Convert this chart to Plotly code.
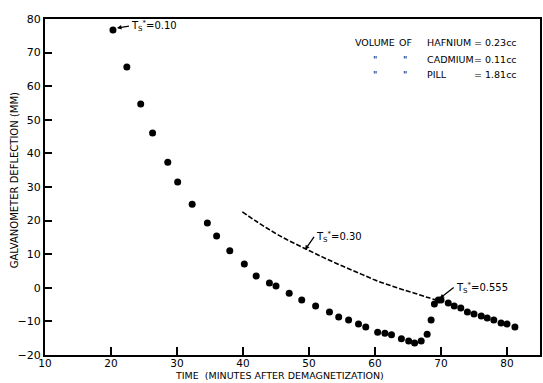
import plotly.graph_objects as go

# Measured galvanometer deflection (dots)
time_min = [20.3, 22.4, 24.5, 26.3, 28.6, 30.1, 32.3, 34.6, 36.0, 38.0, 40.2, 42.0,
            44.0, 45.0, 47.0, 48.9, 51.0, 53.1, 54.5, 56.0, 57.5, 58.6, 60.4, 61.5,
            62.5, 64.0, 65.1, 66.0, 67.0, 67.9, 68.5, 69.0, 69.6, 70.0, 71.1, 72.0,
            73.0, 74.0, 75.0, 76.1, 77.0, 78.0, 79.1, 80.0, 81.2]
deflection = [76.7, 65.7, 54.7, 46.1, 37.4, 31.5, 24.9, 19.3, 15.4, 11.0, 7.1, 3.5,
              1.4, 0.5, -1.6, -3.6, -5.4, -7.2, -8.7, -9.6, -10.8, -11.7, -13.2, -13.5,
              -14.0, -15.2, -15.8, -16.4, -15.8, -13.8, -9.6, -4.8, -3.6, -3.6, -4.5, -5.4,
              -6.0, -7.2, -7.8, -8.4, -9.0, -9.6, -10.5, -10.8, -11.7]

# Dashed curve (T_s* = 0.30)
curve_time = [39.9, 42, 44, 46, 48, 50, 52, 54, 56, 58, 60, 62, 64, 66, 68, 69.6]
curve_defl = [22.6, 19.8, 17.3, 15.0, 13.0, 11.1, 9.2, 7.4, 5.7, 4.0, 2.3, 0.9, -0.4, -1.6, -2.9, -3.8]

x_ticks = [10, 20, 30, 40, 50, 60, 70, 80]
y_ticks = [-20, -10, 0, 10, 20, 30, 40, 50, 60, 70, 80]

# legend-like note (rows of columns)
note_col1 = ["VOLUME", '"', '"']
note_col2 = ["OF", '"', '"']
note_col3 = ["HAFNIUM", "CADMIUM", "PILL"]
note_col4 = ["= 0.23cc", "= 0.11cc", "= 1.81cc"]

FONT = "DejaVu Sans"

fig = go.Figure()
fig.add_trace(go.Scatter(x=curve_time, y=curve_defl, mode="lines",
                         line=dict(color="black", width=1.6, dash="5px,2px"),
                         line_shape="spline", hoverinfo="skip"))
fig.add_trace(go.Scatter(x=time_min, y=deflection, mode="markers",
                         marker=dict(color="black", size=7)))

ann = []
# temperature labels with arrows: (head x, head y, label, pixel offset of text anchor)
for (hx, hy, v, axp, ayp) in [(20.9, 77.3, "0.10", 12, -2),
                              (49.4, 11.3, "0.30", 9, -13),
                              (69.8, -3.2, "0.555", 14, -11)]:
    ann.append(dict(x=hx, y=hy, xref="x", yref="y", ax=axp, ay=ayp,
                    text="T<sub>S</sub><sup>*</sup>=" + v, showarrow=True,
                    arrowhead=2, arrowsize=0.7, arrowwidth=1.3, arrowcolor="black",
                    xanchor="left", yanchor="middle",
                    font=dict(family=FONT, size=10, color="black")))

row_px = [43, 59, 75]
for i, py in enumerate(row_px):
    yy = 1 - (py - 19) / 336
    if i == 0:
        pos = [(354, note_col1[i], "left"), (398, note_col2[i], "left")]
    else:
        pos = [(376, note_col1[i], "center"), (406, note_col2[i], "center")]
    pos += [(427, note_col3[i], "left"), (474, note_col4[i], "left")]
    for (px, t, xa) in pos:
        ann.append(dict(x=(px - 45) / 497, y=yy, xref="paper", yref="paper", text=t,
                        showarrow=False, xanchor=xa, yanchor="middle",
                        font=dict(family=FONT, size=9.5, color="black")))

# axis titles
ann.append(dict(x=(280 - 45) / 497, y=-(383 - 355) / 336, xref="paper", yref="paper",
                text="TIME  (MINUTES AFTER DEMAGNETIZATION)", showarrow=False,
                xanchor="center", yanchor="bottom", font=dict(family=FONT, size=9.5, color="black")))
ann.append(dict(x=-0.062, y=1 - (180 - 19) / 336, xref="paper", yref="paper",
                text="GALVANOMETER DEFLECTION (MM)", showarrow=False, textangle=-90,
                xanchor="center", yanchor="middle", font=dict(family=FONT, size=10, color="black")))

fig.update_layout(
    width=543, height=383,
    margin=dict(l=45, r=1, t=19, b=28),
    paper_bgcolor="white", plot_bgcolor="white",
    showlegend=False,
    font=dict(family=FONT, color="black"),
    annotations=ann,
)
fig.update_xaxes(range=[10, 85], tickvals=x_ticks, ticks="inside", ticklen=8, tickwidth=1.5,
                 tickcolor="black", showgrid=False, zeroline=False, showline=True,
                 linecolor="black", linewidth=2, mirror=True, ticklabelstandoff=-3,
                 tickfont=dict(family=FONT, size=10.5, color="black"))
fig.update_yaxes(range=[-20, 80], tickvals=y_ticks, ticks="inside", ticklen=7, tickwidth=1.5,
                 tickcolor="black", showgrid=False, zeroline=False, showline=True,
                 linecolor="black", linewidth=2, mirror=True,
                 tickfont=dict(family=FONT, size=11, color="black"))

fig.write_html("out.html")
